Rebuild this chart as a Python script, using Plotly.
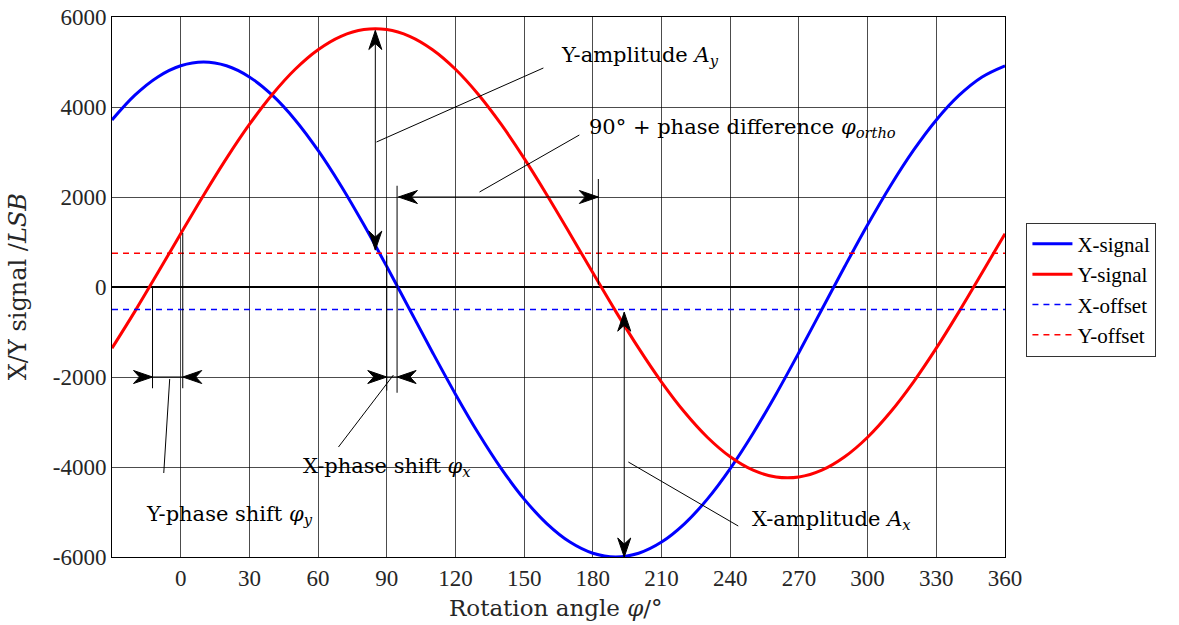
import plotly.graph_objects as go

# ---------------- data ----------------
angles = [-30, -20, -10, 0, 10, 20, 30, 40, 50, 60, 70, 80, 90, 100, 110, 120, 130, 140, 150,
          160, 170, 180, 190, 200, 210, 220, 230, 240, 250, 260, 270, 280, 290, 300, 310,
          320, 330, 340, 350, 360]
x_signal = [3713, 4263, 4668, 4916, 5000, 4916, 4668, 4263, 3713, 3035, 2250, 1381, 455, -500,
            -1455, -2381, -3250, -4035, -4713, -5263, -5668, -5916, -6000, -5916, -5668, -5263,
            -4713, -4035, -3250, -2381, -1455, -500, 455, 1381, 2250, 3035, 3713, 4263, 4668, 4916]
y_signal = [-1359, -541, 315, 1185, 2041, 2859, 3612, 4278, 4838, 5272, 5570, 5721, 5721, 5570,
            5272, 4838, 4278, 3612, 2859, 2041, 1185, 315, -541, -1359, -2112, -2778, -3338,
            -3772, -4070, -4221, -4221, -4070, -3772, -3338, -2778, -2112, -1359, -541, 315, 1185]
x_offset = -500
y_offset = 750

x_range = [-30, 360]
x_ticks = [0, 30, 60, 90, 120, 150, 180, 210, 240, 270, 300, 330, 360]
y_ticks = [-6000, -4000, -2000, 0, 2000, 4000, 6000]
y_ticktext = ["-6000", "-4000", "-2000", "0", "2000", "4000", "6000"]

# vertical reference lines: (x, y_top, y_bottom)
ref_lines = [(-12.3, 0, -2250), (0.9, 1200, -2250), (90.0, 700, -2300),
             (94.5, 2250, -2350), (182.4, 2400, 50)]
# vertical double arrows: (x, y_low_tip, y_high_tip)
v_arrows = [(85.0, 820, 5700), (193.7, -6000, -560)]
# horizontal dimension arrows: (y, x_left, x_right, style)
h_arrows = [(2000, 95.1, 182.4, "out"), (-2000, -12.3, 0.9, "in"), (-2000, 90.0, 94.5, "in")]
# leader lines: (x0, y0, x1, y1)
leaders = [(85.5, 3222, 158.4, 4867), (130.5, 2111, 174.1, 3378), (92.9, -1956, 68.9, -3556),
           (-4.8, -2044, -7.4, -4133), (195.5, -3889, 243.5, -5311)]
# labels: (x_left, y_center, text)
labels = [(165.0, 5130, "Y-amplitude <i>A</i><sub><i>y</i></sub>"),
          (177.6, 3540, "90° + phase difference <i>φ</i><sub><i>ortho</i></sub>"),
          (52.4, -4000, "X-phase shift <i>φ</i><sub><i>x</i></sub>"),
          (-16.1, -5070, "Y-phase shift <i>φ</i><sub><i>y</i></sub>"),
          (248.7, -5180, "X-amplitude <i>A</i><sub><i>x</i></sub>")]
x_title = "Rotation angle <i>φ</i>/°"
y_title = "X/Y signal /<i>LSB</i>"

TICKFONT = "Liberation Serif"
MATHFONT = "DejaVu Serif"

fig = go.Figure()
fig.add_trace(go.Scatter(x=angles, y=x_signal, mode="lines", name="X-signal",
                         line=dict(color="#0000ff", width=3, shape="spline")))
fig.add_trace(go.Scatter(x=angles, y=y_signal, mode="lines", name="Y-signal",
                         line=dict(color="#ff0000", width=3, shape="spline")))
fig.add_trace(go.Scatter(x=x_range, y=[x_offset, x_offset], mode="lines", name="X-offset",
                         line=dict(color="#0000ff", width=1.5, dash="6px,5px")))
fig.add_trace(go.Scatter(x=x_range, y=[y_offset, y_offset], mode="lines", name="Y-offset",
                         line=dict(color="#ff0000", width=1.5, dash="6px,5px")))

shapes = []
thin = dict(color="black", width=1)
for x, y0, y1 in ref_lines:
    shapes.append(dict(type="line", xref="x", yref="y", x0=x, x1=x, y0=y0, y1=y1, line=thin))
for x0, y0, x1, y1 in leaders:
    shapes.append(dict(type="line", xref="x", yref="y", x0=x0, x1=x1, y0=y0, y1=y1, line=thin))


def head(x, y, dx, dy, L=19, W=6.5, N=13):
    # arrowhead in pixel units anchored at the tip (x, y); (dx, dy) direction, y up
    px, py = -dy, dx
    pts = [(0, 0), (-dx * L + px * W, -dy * L + py * W), (-dx * N, -dy * N),
           (-dx * L - px * W, -dy * L - py * W)]
    path = "M" + " L".join(f"{a:.2f},{b:.2f}" for a, b in pts) + " Z"
    return dict(type="path", xref="x", yref="y", xsizemode="pixel", ysizemode="pixel",
                xanchor=x, yanchor=y, path=path, fillcolor="black",
                line=dict(color="black", width=1))


for x, ylo, yhi in v_arrows:
    shapes.append(dict(type="line", xref="x", yref="y", x0=x, x1=x, y0=ylo, y1=yhi, line=thin))
    shapes.append(head(x, yhi, 0, 1))
    shapes.append(head(x, ylo, 0, -1))
for y, xl, xr, style in h_arrows:
    shapes.append(dict(type="line", xref="x", yref="y", x0=xl, x1=xr, y0=y, y1=y, line=thin))
    if style == "out":
        shapes.append(head(xl, y, -1, 0))
        shapes.append(head(xr, y, 1, 0))
    else:
        shapes.append(head(xl, y, 1, 0))
        shapes.append(head(xr, y, -1, 0))

annotations = [dict(x=x, y=y, xref="x", yref="y", text=t, showarrow=False, xanchor="left",
                    yanchor="middle", font=dict(family=MATHFONT, size=21, color="black"))
               for x, y, t in labels]
annotations.append(dict(x=0.497, y=-0.094, xref="paper", yref="paper", text=x_title,
                        showarrow=False, xanchor="center", yanchor="middle",
                        font=dict(family=MATHFONT, size=23, color="#262626")))
annotations.append(dict(x=-0.105, y=0.5, xref="paper", yref="paper", text=y_title,
                        showarrow=False, xanchor="center", yanchor="middle", textangle=-90,
                        font=dict(family=MATHFONT, size=24, color="#262626")))

axis_common = dict(showline=True, linecolor="black", linewidth=1, mirror=True,
                   showgrid=True, gridcolor="rgba(0,0,0,0.7)", gridwidth=1, automargin=False,
                   ticks="", tickfont=dict(family=TICKFONT, size=23, color="#262626"))

fig.update_layout(
    width=1179, height=625,
    margin=dict(l=112, r=174, t=17, b=68),
    paper_bgcolor="white", plot_bgcolor="white",
    shapes=shapes, annotations=annotations,
    xaxis=dict(range=x_range, tickvals=x_ticks, zeroline=False, **axis_common),
    yaxis=dict(range=[-6000, 6000], tickvals=y_ticks, ticktext=y_ticktext,
               zeroline=True, zerolinecolor="black", zerolinewidth=1.5, **axis_common),
    legend=dict(x=1.024, y=0.495, xanchor="left", yanchor="middle",
                bgcolor="white", bordercolor="#333", borderwidth=1,
                font=dict(family=TICKFONT, size=21, color="black"),
                tracegroupgap=0, itemwidth=40),
    showlegend=True,
)

fig.write_html("out.html")
